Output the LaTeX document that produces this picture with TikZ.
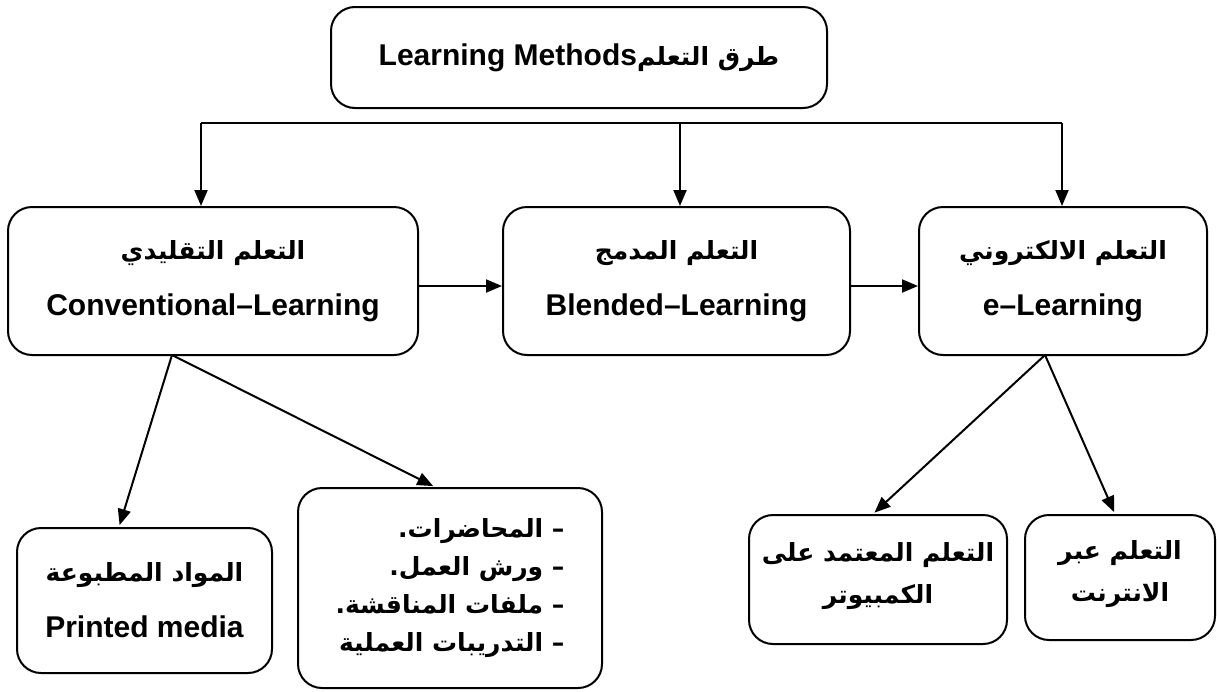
\documentclass[tikz,border=0pt]{standalone}
\usepackage{fontspec}
\setmainfont{Liberation Sans}
\newfontfamily\arabicfont[Script=Arabic]{DejaVu Sans}
\TeXXeTstate=1
\usetikzlibrary{positioning}
\usetikzlibrary{arrows.meta}

\newcommand{\artxt}[1]{{\arabicfont\fontsize{25}{30}\selectfont\beginR #1\endR}}

\begin{document}
\begin{tikzpicture}[
    x=1pt, y=-1pt,
    method box/.style={
        draw, line width=2pt, rounded corners=24pt,
        align=center, inner sep=0pt,
        font=\bfseries\fontsize{30}{56}\selectfont
    },
    flow arrow/.style={
        line width=2pt,
        -{Triangle[length=16pt, width=13pt]}
    }
  ]
  \useasboundingbox (0,0) rectangle (1217,691);

  % top
  \node[method box, minimum width=496pt, minimum height=101pt] (methods) at (579,57.5)
      {Learning Methods\artxt{طرق التعلم}};

  \coordinate (bar_l) at (201,123);
  \coordinate (bar_m) at (680,123);
  \coordinate (bar_r) at (1062,123);

  % middle row
  \node[method box, minimum width=410pt, minimum height=148pt] (conv) at (213,281)
      {\artxt{التعلم التقليدي}\\Conventional–Learning};
  \node[method box, minimum width=347pt, minimum height=148pt] (blend) at (676.5,281)
      {\artxt{التعلم المدمج}\\Blended–Learning};
  \node[method box, minimum width=288pt, minimum height=148pt] (elearn) at (1063,281)
      {\artxt{التعلم الالكتروني}\\e–Learning};

  \draw[line width=2pt] (bar_l) -- (bar_r);
  \draw[flow arrow] (bar_l) -- (bar_l |- conv.north);
  \draw[flow arrow] (bar_m) -- (bar_m |- blend.north);
  \draw[flow arrow] (bar_r) -- (bar_r |- elearn.north);

  \draw[flow arrow] (conv.east |- 0,286) -- (blend.west |- 0,286);
  \draw[flow arrow] (blend.east |- 0,286) -- (elearn.west |- 0,286);

  % bottom row
  \node[method box, minimum width=255pt, minimum height=145pt] (printed) at (144.5,600.5)
      {\artxt{المواد المطبوعة}\\Printed media};
  \node[method box, minimum width=304pt, minimum height=200pt, align=right,
        font=\bfseries\fontsize{30}{38}\selectfont] (lectures) at (450,588)
      {\artxt{– المحاضرات.}\\\artxt{– ورش العمل.}\\\artxt{– ملفات المناقشة.}\\\artxt{– التدريبات العملية}};
  \node[method box, minimum width=258pt, minimum height=129pt, text depth=14pt,
        font=\bfseries\fontsize{30}{42}\selectfont] (computer) at (878,579.5)
      {\artxt{التعلم المعتمد على}\\\artxt{الكمبيوتر}};
  \node[method box, minimum width=190pt, minimum height=125pt, text depth=14pt,
        font=\bfseries\fontsize{30}{42}\selectfont] (internet) at (1120,577.5)
      {\artxt{التعلم عبر}\\\artxt{الانترنت}};

  \coordinate (conv_out) at (172,355);
  \coordinate (elearn_out) at (1045,355);

  \draw[flow arrow, shorten >=2pt] (conv_out) -- (printed.north -| 119,0);
  \draw[flow arrow, shorten >=2pt] (conv_out) -- (lectures.north -| 435,0);
  \draw[flow arrow, shorten >=2pt] (elearn_out) -- (computer.north -| 873,0);
  \draw[flow arrow, shorten >=2pt] (elearn_out) -- (internet.north -| 1115,0);

\end{tikzpicture}
\end{document}
